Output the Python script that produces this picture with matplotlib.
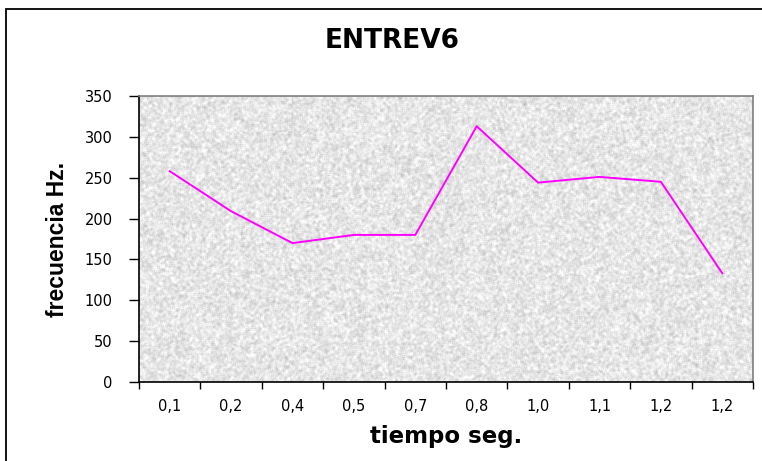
import numpy as np
import matplotlib
matplotlib.use("Agg")
import matplotlib.pyplot as plt
from matplotlib.patches import Rectangle

plt.rcParams['font.family'] = ['DejaVu Sans']

# data
tiempo = ["0,1", "0,2", "0,4", "0,5", "0,7", "0,8", "1,0", "1,1", "1,2", "1,2"]
frecuencia = [258, 209, 170, 180, 180, 313, 244, 251, 245, 133]
y_ticks = [0, 50, 100, 150, 200, 250, 300, 350]

fig = plt.figure(figsize=(7.62, 4.61), dpi=100)
ax = fig.add_axes([139 / 762, 1 - 382 / 461, 614 / 762, 286 / 461])

# light grey speckled background of the plot area (texture only)
rng = np.random.default_rng(7)
noise = rng.random((290, 620))
k = np.ones(3) / 3
noise = np.apply_along_axis(lambda r: np.convolve(r, k, mode="same"), 1, noise)
noise = np.apply_along_axis(lambda c: np.convolve(c, k, mode="same"), 0, noise)
noise = (noise - noise.mean()) / noise.std()
tex = np.clip(0.9 + 0.04 * noise, 0.74, 0.99)
ax.imshow(tex, cmap="gray", vmin=0, vmax=1, extent=[-0.5, 9.5, 0, 350],
          aspect="auto", zorder=0, interpolation="nearest")

x = np.arange(len(tiempo))
ax.plot(x, frecuencia, color="#FF00FF", lw=1.4, zorder=3)

ax.set_xlim(-0.5, len(tiempo) - 0.5)
ax.set_ylim(0, 350)
ax.set_yticks(y_ticks)
ax.set_yticklabels([str(v) for v in y_ticks], fontsize=10.5)

ax.set_xticks(np.arange(-0.5, len(tiempo)))
ax.set_xticklabels([])
ax.set_xticks(x, minor=True)
ax.set_xticklabels(tiempo, minor=True, fontsize=10.5)
ax.tick_params(axis="x", which="minor", length=0, pad=12)
ax.tick_params(axis="x", which="major", length=5, width=1, direction="out")
ax.tick_params(axis="y", which="major", length=7, width=1, direction="out", pad=12)

for s in ["left", "bottom"]:
    ax.spines[s].set_color("black")
    ax.spines[s].set_linewidth(1.2)
for s in ["top", "right"]:
    ax.spines[s].set_color("#808080")
    ax.spines[s].set_linewidth(1.2)

ax.set_xlabel("tiempo seg.", fontsize=16.5, fontweight="bold", labelpad=8)
ax.set_ylabel("frecuencia Hz.", fontsize=16.5, fontweight="bold", labelpad=11,
              family=["Liberation Sans", "DejaVu Sans"])
fig.text(392 / 762, 1 - 41 / 461, "ENTREV6", ha="center", va="center",
         fontsize=19, fontweight="bold")

# outer chart border (cut off on the right and bottom)
fig.patches.append(Rectangle((6 / 762, -0.1), 1.2, 1 - 9 / 461 + 0.1,
                             transform=fig.transFigure, fill=False,
                             edgecolor="black", lw=1.3))

fig.savefig("out.png", dpi=100)
